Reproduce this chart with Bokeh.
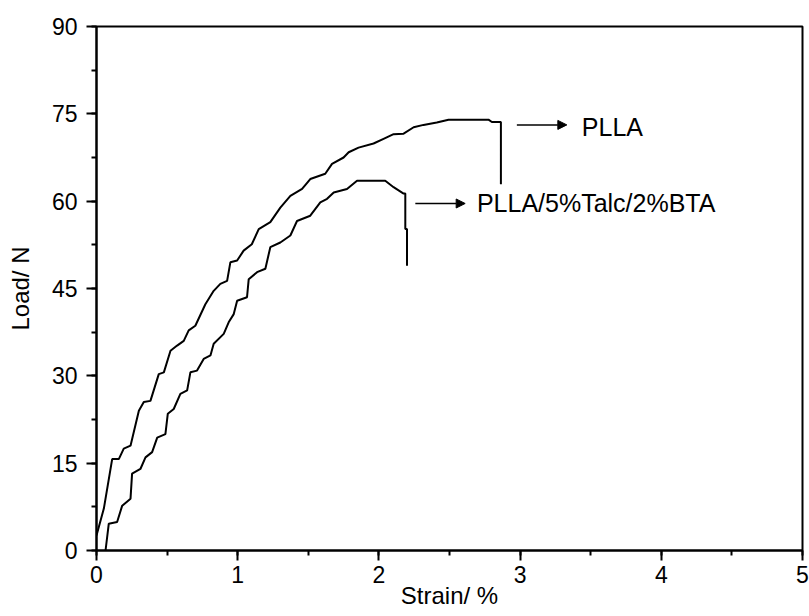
from bokeh.plotting import figure
from bokeh.models import Range1d, SingleIntervalTicker, Arrow, NormalHead, Label
from bokeh.embed import file_html
from bokeh.resources import INLINE

# PLLA curve (strain %, load N)
strain_plla = [0.0, 0.052, 0.111, 0.158, 0.193, 0.241, 0.30, 0.335, 0.382, 0.441, 0.477, 0.524,
               0.571, 0.618, 0.653, 0.70, 0.771, 0.830, 0.877, 0.925, 0.948, 0.996, 1.042, 1.10,
               1.149, 1.231, 1.302, 1.373, 1.456, 1.514, 1.62, 1.668, 1.75, 1.786, 1.856, 1.962,
               2.033, 2.104, 2.175, 2.246, 2.316, 2.41, 2.493, 2.776, 2.80, 2.864, 2.864]
load_plla = [2.6, 7.2, 15.7, 15.7, 17.5, 18.0, 24.0, 25.5, 25.7, 30.3, 30.6, 34.3,
             35.2, 36.0, 37.8, 38.6, 42.3, 44.6, 45.8, 46.3, 49.5, 49.8, 51.5, 52.6,
             55.2, 56.4, 58.9, 60.9, 62.1, 63.8, 64.7, 66.4, 67.5, 68.4, 69.2, 69.9,
             70.7, 71.5, 71.6, 72.7, 73.1, 73.5, 74.0, 74.0, 73.6, 73.6, 62.9]

# PLLA/5%Talc/2%BTA curve
strain_talc = [0.064, 0.087, 0.146, 0.182, 0.241, 0.252, 0.311, 0.347, 0.394, 0.43, 0.488, 0.505,
               0.547, 0.594, 0.642, 0.665, 0.712, 0.759, 0.807, 0.830, 0.901, 0.936, 0.972, 0.996,
               1.066, 1.078, 1.137, 1.196, 1.231, 1.302, 1.373, 1.42, 1.514, 1.585, 1.633, 1.68,
               1.774, 1.845, 2.045, 2.104, 2.175, 2.187, 2.187, 2.199, 2.199]
load_talc = [0.0, 4.6, 4.9, 7.7, 8.9, 13.2, 14.0, 16.0, 16.9, 19.4, 20.0, 23.5,
             24.3, 26.9, 27.5, 30.6, 30.9, 32.9, 33.5, 35.5, 37.2, 39.2, 40.6, 42.9,
             43.5, 46.6, 47.8, 48.4, 52.1, 52.9, 54.1, 56.6, 57.5, 59.8, 60.4, 61.5,
             62.1, 63.5, 63.5, 62.4, 61.3, 61.3, 55.2, 55.2, 48.9]

series_names = ["PLLA", "PLLA/5%Talc/2%BTA"]
x_title = "Strain/ %"
y_title = "Load/ N"

FONT = "Liberation Sans"

p = figure(width=809, height=616, output_backend="svg", toolbar_location=None,
           x_range=Range1d(0, 5), y_range=Range1d(0, 90),
           min_border_left=96, min_border_right=7, min_border_top=26, min_border_bottom=66,
           x_axis_label=x_title, y_axis_label=y_title)

p.xgrid.visible = False
p.ygrid.visible = False
p.outline_line_color = "black"
p.outline_line_width = 2
p.outline_line_alpha = 1
p.background_fill_color = "white"
p.border_fill_color = "white"

p.xaxis.ticker = SingleIntervalTicker(interval=1, num_minor_ticks=2)
p.yaxis.ticker = SingleIntervalTicker(interval=15, num_minor_ticks=2)

for ax in (p.xaxis[0], p.yaxis[0]):
    ax.axis_line_width = 2
    ax.axis_line_color = "black"
    ax.major_tick_line_width = 2
    ax.minor_tick_line_width = 2
    ax.major_tick_line_color = "black"
    ax.minor_tick_line_color = "black"
    ax.major_tick_in = 0
    ax.major_tick_out = 10
    ax.minor_tick_in = 0
    ax.minor_tick_out = 5
    ax.major_label_text_font = FONT
    ax.major_label_text_font_size = "23px"
    ax.major_label_text_color = "black"
    ax.axis_label_text_font = FONT
    ax.axis_label_text_font_size = "24px"
    ax.axis_label_text_font_style = "normal"
    ax.axis_label_text_color = "black"

p.xaxis.major_label_standoff = 5
p.xaxis.axis_label_standoff = -4
p.yaxis.major_label_standoff = 9
p.yaxis.axis_label_standoff = 15

p.line(strain_plla, load_plla, line_color="black", line_width=2)
p.line(strain_talc, load_talc, line_color="black", line_width=2)

# annotations: arrows + labels
ann = [
    dict(x0=2.977, x1=3.331, y=73.1, tx=3.437, ty=72.7, text=series_names[0]),
    dict(x0=2.258, x1=2.611, y=59.6, tx=2.694, ty=59.6, text=series_names[1]),
]
for a in ann:
    p.add_layout(Arrow(end=NormalHead(size=9, line_color="black", fill_color="black", line_width=1),
                       x_start=a["x0"], y_start=a["y"], x_end=a["x1"], y_end=a["y"],
                       line_color="black", line_width=1.5))
    p.add_layout(Label(x=a["tx"], y=a["ty"], text=a["text"], text_baseline="middle",
                       text_align="left", text_font=FONT, text_font_size="25px",
                       text_color="black"))

open("out.html", "w").write(file_html(p, INLINE))
